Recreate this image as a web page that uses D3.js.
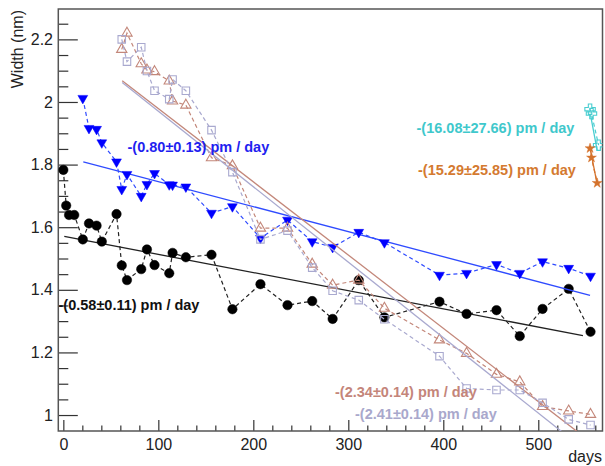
<!DOCTYPE html>
<html>
<head>
<meta charset="utf-8">
<script src="https://cdn.jsdelivr.net/npm/d3@7"></script>
<style>
  body { margin: 0; background: #fff; }
  svg { font-family: "Liberation Sans", Arial, sans-serif; }
</style>
</head>
<body>
<svg id="chart" width="605" height="466"></svg>
<script>
// --- DATA ---
const days = [0, 3, 6, 11.5, 20.5, 27, 35, 40.5, 56, 61.5, 67, 82, 88, 96, 111.5, 115, 129, 156,
              178, 207.5, 236, 262, 283.5, 311, 338, 396, 424.5, 456, 480.5, 504.5, 532, 555];

const blackWidth = [1.783, 1.669, 1.639, 1.639, 1.561, 1.612, 1.605, 1.554, 1.642, 1.478, 1.431, 1.466,
                    1.529, 1.479, 1.453, 1.518, 1.504, 1.512, 1.338, 1.418, 1.351, 1.364, 1.307, 1.431,
                    1.312, 1.362, 1.323, 1.335, 1.252, 1.339, 1.403, 1.266];

const blueDays = days.slice(4);
const blueWidth = [2.012, 1.916, 1.913, 1.870, 1.809, 1.721, 1.769, 1.699, 1.737, 1.772, 1.736, 1.735,
                   1.729, 1.645, 1.666, 1.565, 1.623, 1.554, 1.536, 1.584, 1.551, 1.447, 1.453, 1.481,
                   1.453, 1.490, 1.469, 1.444];

const lateDays = days.slice(9);
const rosyWidth = [2.168, 2.220, 2.122, 2.102, 2.097, 2.067, 2.003, 1.990, 1.822, 1.796, 1.597, 1.597,
                   1.482, 1.415, 1.431, 1.341, 1.240, 1.197, 1.130, 1.106, 1.027, 1.013, 1.002];
const lavenderWidth = [2.200, 2.129, 2.175, 2.099, 2.036, 2.009, 2.072, 2.036, 1.910, 1.776, 1.561, 1.589,
                       1.471, 1.397, 1.367, 1.306, 1.188, 1.085, 1.080, 1.080, 1.039, 0.986, 0.968];

const cyanDays = [554.5, 556, 563.5];
const cyanWidth = [1.977, 1.963, 1.862];
const orangeDays = [554.5, 556, 562];
const orangeWidth = [1.852, 1.822, 1.741];

// fitted lines: start day, end day, value at start, slope in pm/day
const fitStart = [1, 21, 62, 62, 555, 554.5];
const fitEnd = [547, 554.5, 560, 560, 562, 562];
const fitStartValue = [1.5706, 1.809, 2.068, 2.062, 1.958, 1.852];
const fitSlope = [-0.58, -0.80, -2.34, -2.41, -16.08, -15.29];
const fitLabels = ['-(0.58\u00b10.11) pm / day', '-(0.80\u00b10.13) pm / day', '-(2.34\u00b10.14) pm / day',
                   '-(2.41\u00b10.14) pm / day', '-(16.08\u00b127.66) pm / day', '-(15.29\u00b125.85) pm / day'];

const xMajorTicks = [0, 100, 200, 300, 400, 500];
const yMajorTicks = [1, 1.2, 1.4, 1.6, 1.8, 2, 2.2];

// --- STYLES ---
const series = [
    { days: days, values: blackWidth, color: '#000000', line: '#222222', symbol: d3.symbolCircle, size: 70, fill: true, rotate: 0 },
    { days: blueDays, values: blueWidth, color: '#0000ff', line: '#2f4bff', symbol: d3.symbolTriangle, size: 42, fill: true, rotate: 180 },
    { days: lateDays, values: rosyWidth, color: '#c3877a', line: '#c3877a', symbol: d3.symbolTriangle, size: 46, fill: false, rotate: 0 },
    { days: lateDays, values: lavenderWidth, color: '#a9a9cf', line: '#a9a9cf', symbol: d3.symbolSquare, size: 56, fill: false, rotate: 0 },
    { days: cyanDays, values: cyanWidth, color: '#48cdd0', line: '#48cdd0', symbol: d3.symbolCross, size: 60, fill: false, rotate: 0 },
    { days: orangeDays, values: orangeWidth, color: '#d4722c', line: '#d4722c', symbol: d3.symbolStar, size: 30, fill: true, rotate: 0 },
];
const labelColors = ['#111111', '#1f1ff0', '#c4857a', '#a9a8cc', '#3fc8cc', '#d47a30'];
const labelPos = [[58.5, 310], [127.5, 152], [335, 397], [355, 418.5], [416.5, 132.5], [418, 174.5]];

// --- SCALES ---
const x = d3.scaleLinear().domain([-5.3, 567.6]).range([58.3, 602.5]);
const y = d3.scaleLinear().domain([0.949, 2.297]).range([431, 9]);

const svg = d3.select('#chart');
const [x0, x1] = x.range();
const [yb, yt] = y.range();

svg.append('defs').append('clipPath').attr('id', 'frame-clip')
    .append('rect').attr('x', x0).attr('y', yt).attr('width', x1 - x0).attr('height', yb - yt);

// --- AXES ---
function styleAxis(g) {
    g.select('.domain').remove();
    g.selectAll('line').attr('stroke', '#333').attr('stroke-width', 1.2);
    g.selectAll('text').attr('fill', '#222').attr('font-size', 16).attr('font-family', null);
}

const xMinor = d3.range(0, 561, 20).filter(d => d % 100 !== 0);
svg.append('g').attr('transform', `translate(0,${yb})`)
    .call(d3.axisBottom(x).tickValues(xMinor).tickSize(-5.5).tickFormat(''))
    .call(styleAxis);
svg.append('g').attr('transform', `translate(0,${yb})`)
    .call(d3.axisBottom(x).tickValues(xMajorTicks).tickSize(-11).tickPadding(7.5).tickFormat(d3.format('d')))
    .call(styleAxis);

const yMinor = d3.range(20, 46).map(i => i / 20).filter(d => Math.round(d * 100) % 20 !== 0);
svg.append('g').attr('transform', `translate(${x0},0)`)
    .call(d3.axisLeft(y).tickValues(yMinor).tickSize(-10).tickFormat(''))
    .call(styleAxis);
svg.append('g').attr('transform', `translate(${x0},0)`)
    .call(d3.axisLeft(y).tickValues(yMajorTicks).tickSize(-19.5).tickPadding(5.3).tickFormat(d3.format('~g')))
    .call(styleAxis);

svg.append('rect')
    .attr('x', x0).attr('y', yt).attr('width', x1 - x0).attr('height', yb - yt)
    .attr('fill', 'none').attr('stroke', '#555').attr('stroke-width', 1.5);

svg.append('text')
    .attr('transform', 'translate(22.5,10) rotate(-90)')
    .attr('text-anchor', 'end').attr('font-size', 16).attr('fill', '#222')
    .text('Width (nm)');
svg.append('text')
    .attr('x', 602).attr('y', 462).attr('text-anchor', 'end')
    .attr('font-size', 16).attr('fill', '#222')
    .text('days');

// --- SERIES ---
const plot = svg.append('g').attr('clip-path', 'url(#frame-clip)');
const line = d3.line().x(d => x(d[0])).y(d => y(d[1]));

series.forEach((s, i) => {
    const pts = s.days.map((d, j) => [d, s.values[j]]);
    const g = plot.append('g');

    g.append('path')
        .attr('d', line(pts))
        .attr('fill', 'none').attr('stroke', s.line)
        .attr('stroke-width', 1.2).attr('stroke-dasharray', '4,3');

    const fitEndValue = fitStartValue[i] + fitSlope[i] / 1000 * (fitEnd[i] - fitStart[i]);
    g.append('path')
        .attr('d', line([[fitStart[i], fitStartValue[i]], [fitEnd[i], fitEndValue]]))
        .attr('fill', 'none').attr('stroke', s.line).attr('stroke-width', 1.3);

    g.selectAll('path.marker')
        .data(pts)
        .join('path')
        .attr('class', 'marker')
        .attr('d', d3.symbol().type(s.symbol).size(s.size))
        .attr('transform', d => `translate(${x(d[0])},${y(d[1])}) rotate(${s.rotate})`)
        .attr('fill', s.fill ? s.color : 'white')
        .attr('fill-opacity', s.fill ? 1 : 0)
        .attr('stroke', s.color)
        .attr('stroke-width', s.fill ? 0.5 : 1.1);
});

// --- FIT LABELS ---
svg.selectAll('text.fit')
    .data(fitLabels)
    .join('text')
    .attr('class', 'fit')
    .attr('x', (d, i) => labelPos[i][0])
    .attr('y', (d, i) => labelPos[i][1])
    .attr('font-size', 14.5).attr('font-weight', 'bold')
    .attr('fill', (d, i) => labelColors[i])
    .text(d => d);
</script>
</body>
</html>
